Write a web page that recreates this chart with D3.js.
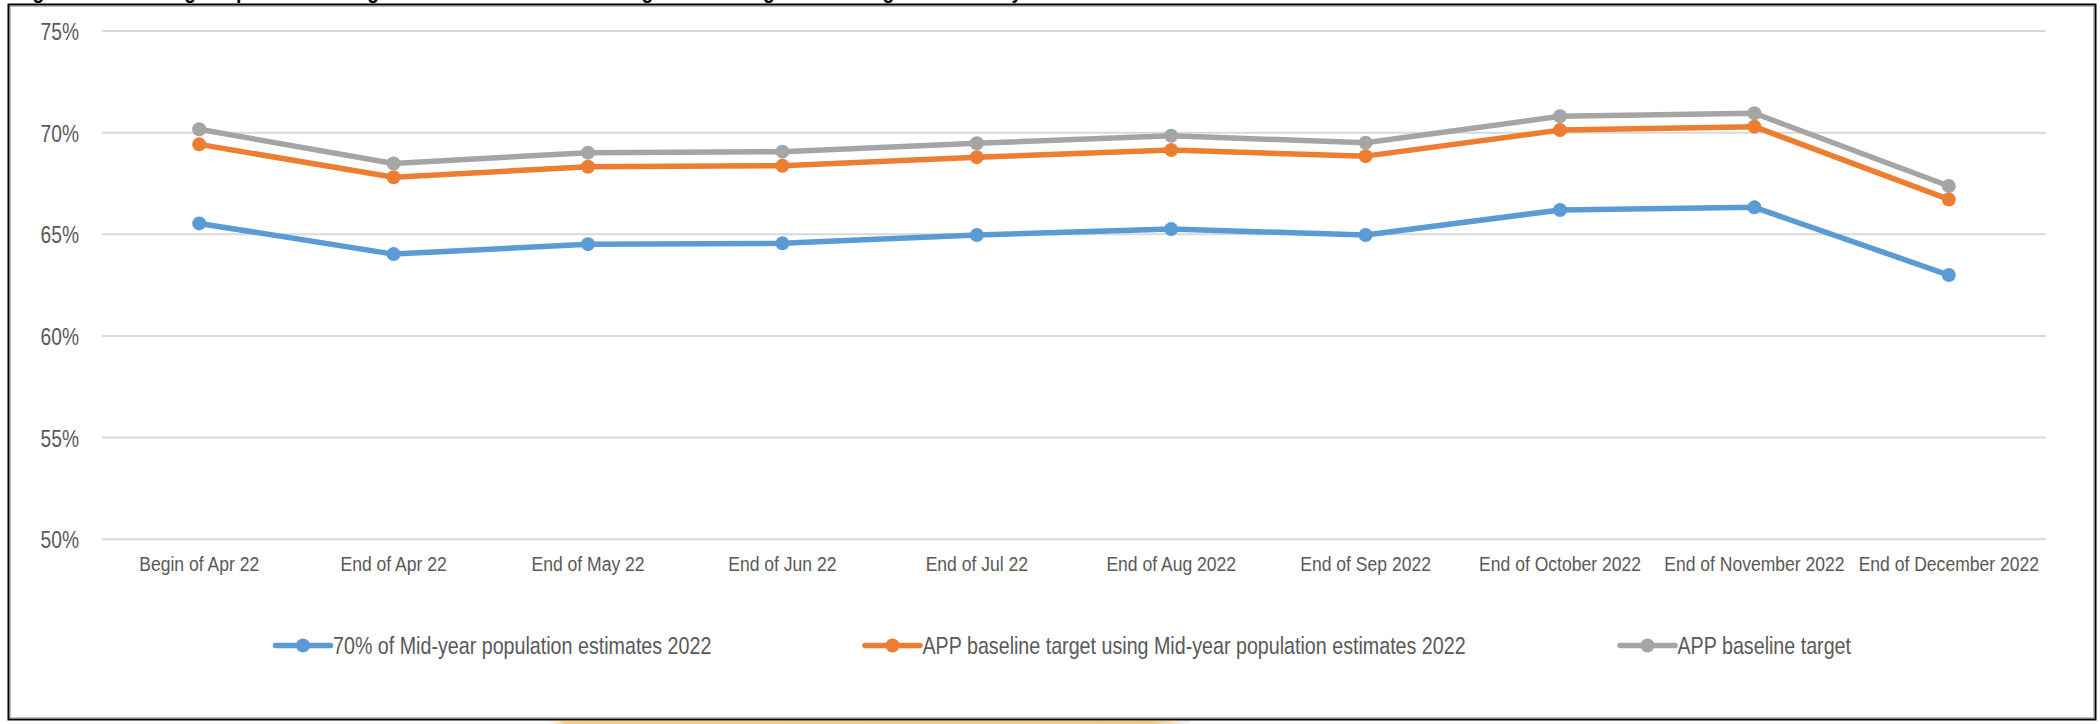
<!DOCTYPE html>
<html>
<head>
<meta charset="utf-8">
<script src="https://cdn.jsdelivr.net/npm/d3@7/dist/d3.min.js"></script>
<style>
  html, body { margin: 0; padding: 0; background: #ffffff; }
  svg { display: block; }
</style>
</head>
<body>
<svg id="chart" width="2100" height="724"></svg>
<script>
// ---------------- data ----------------
const categories = [
  "Begin of Apr 22", "End of Apr 22", "End of May 22", "End of Jun 22", "End of Jul 22",
  "End of Aug 2022", "End of Sep 2022", "End of October 2022", "End of November 2022", "End of December 2022"
];
const seriesNames = [
  "70% of Mid-year population estimates 2022",
  "APP baseline target using Mid-year population estimates 2022",
  "APP baseline target"
];
const midYear70 = [65.51, 64.00, 64.49, 64.53, 64.94, 65.23, 64.94, 66.17, 66.30, 62.97];
const appMidYear = [69.40, 67.78, 68.30, 68.35, 68.77, 69.12, 68.82, 70.10, 70.27, 66.69];
const appBaseline = [70.14, 68.46, 68.99, 69.04, 69.45, 69.82, 69.48, 70.78, 70.93, 67.35];
const yTicks = [50, 55, 60, 65, 70, 75];
const titleText = "Figure 1: Percentage of persons having received at least one dose against the targets and the goal of 2022 by month";

// ---------------- layout ----------------
const W = 2100, H = 724;
const plot = { left: 102, right: 2046, top: 30.5, bottom: 538.7 };
const colors = ["#5B9BD5", "#ED7D31", "#A5A5A5"];
const textColor = "#595959";
const FONT = "'Liberation Sans', Arial, Helvetica, sans-serif";

const svg = d3.select("#chart");
svg.append("rect").attr("width", W).attr("height", H).attr("fill", "#ffffff");

// clipped title above the frame (only descenders visible)
svg.append("text")
  .attr("transform", "translate(15.4,-2) scale(0.88,1)")
  .attr("font-family", FONT).attr("font-weight", "bold").attr("font-size", 22)
  .attr("fill", "#000").text(titleText);

// yellow strip below frame
const defs = svg.append("defs");
const grad = defs.append("linearGradient").attr("id", "ystrip").attr("x1", "0").attr("x2", "1");
[[0, "#ffffff", 0], [0.03, "#FCCB80", 1], [0.94, "#FCC77A", 1], [0.97, "#F4E3B8", 1], [1, "#EAF2FA", 0.6]]
  .forEach(s => grad.append("stop").attr("offset", s[0]).attr("stop-color", s[1]).attr("stop-opacity", s[2]));
svg.append("rect").attr("x", 545).attr("y", 721).attr("width", 645).attr("height", 3).attr("fill", "url(#ystrip)");

// frame
svg.append("rect").attr("x", 10.5).attr("y", 6.5).attr("width", 2083).attr("height", 711)
  .attr("fill", "none").attr("stroke", "#BFBFBF").attr("stroke-width", 1);
svg.append("rect").attr("x", 8.5).attr("y", 4.5).attr("width", 2087).attr("height", 715)
  .attr("fill", "none").attr("stroke", "#000").attr("stroke-width", 2);

// ---------------- scales ----------------
const x = d3.scaleBand().domain(categories).range([plot.left, plot.right]).paddingInner(0).paddingOuter(0);
const y = d3.scaleLinear().domain([50, 75]).range([plot.bottom, plot.top]);
const cx = c => x(c) + x.bandwidth() / 2;

// y axis with gridlines
const yScaleX = 0.8;
const yAxis = svg.append("g").attr("transform", `translate(${plot.left},0)`)
  .call(d3.axisLeft(y).tickValues(yTicks).tickFormat(d => d + "%")
    .tickSize(-(plot.right - plot.left)).tickPadding(23));
yAxis.select(".domain").remove();
yAxis.selectAll(".tick line").attr("stroke", "#D9D9D9").attr("stroke-width", 2);
yAxis.selectAll(".tick text")
  .attr("font-family", FONT).attr("font-size", 24).attr("fill", textColor)
  .attr("x", -23 / yScaleX).attr("dy", null).attr("y", 9)
  .attr("transform", `scale(${yScaleX},1)`);

// x axis labels
const xScaleX = 0.877;
const xAxis = svg.append("g").attr("transform", `translate(0,${plot.bottom})`)
  .call(d3.axisBottom(x).tickSize(0));
xAxis.select(".domain").remove();
xAxis.selectAll(".tick text")
  .attr("font-family", FONT).attr("font-size", 20).attr("fill", textColor)
  .attr("dy", null).attr("y", 32.3)
  .attr("transform", `scale(${xScaleX},1)`);

// ---------------- series ----------------
const seriesData = [midYear70, appMidYear, appBaseline];
const line = d3.line().x((d, i) => cx(categories[i])).y(d => y(d));
const drawOrder = [2, 1, 0];
drawOrder.forEach(si => {
  const g = svg.append("g");
  g.append("path").datum(seriesData[si]).attr("d", line)
    .attr("fill", "none").attr("stroke", colors[si]).attr("stroke-width", 5.5)
    .attr("stroke-linejoin", "round").attr("stroke-linecap", "round");
  g.selectAll("circle").data(seriesData[si]).join("circle")
    .attr("cx", (d, i) => cx(categories[i])).attr("cy", d => y(d)).attr("r", 7)
    .attr("fill", colors[si]);
});

// ---------------- legend ----------------
const legendY = 645.5;
const legendX = [275.5, 865, 1620];
const legScaleX = 0.82;
seriesNames.forEach((name, i) => {
  const g = svg.append("g").attr("transform", `translate(${legendX[i]},${legendY})`);
  g.append("line").attr("x1", 0).attr("x2", 55).attr("y1", 0).attr("y2", 0)
    .attr("stroke", colors[i]).attr("stroke-width", 5.5).attr("stroke-linecap", "round");
  g.append("circle").attr("cx", 27.5).attr("cy", 0).attr("r", 7).attr("fill", colors[i]);
  g.append("text").attr("transform", `translate(57.5,8) scale(${legScaleX},1)`)
    .attr("font-family", FONT).attr("font-size", 24).attr("fill", textColor).text(name);
});
</script>
</body>
</html>
